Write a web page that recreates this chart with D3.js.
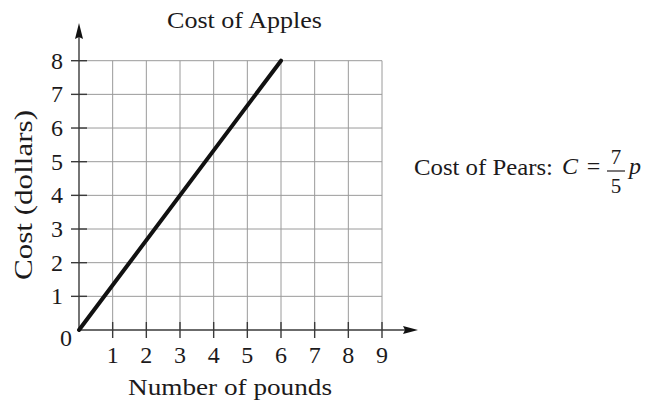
<!DOCTYPE html>
<html>
<head>
<meta charset="utf-8">
<script src="https://cdn.jsdelivr.net/npm/d3@7"></script>
<style>
  body { margin: 0; background: #fff; }
  text { font-family: "Liberation Serif", "Times New Roman", serif; fill: #1c1a1b; }
</style>
</head>
<body>
<svg id="chart" width="649" height="402"></svg>
<script>
  // data
  const xTicks = [1, 2, 3, 4, 5, 6, 7, 8, 9]
  const yTicks = [1, 2, 3, 4, 5, 6, 7, 8]
  const applePounds = [0, 6]
  const appleCost = [0, 8]

  const svg = d3.select("#chart")
  const fontSize = 24
  const tickFont = 24

  let xScale = d3.scaleLinear().domain([0, 9]).range([79, 382])
  let yScale = d3.scaleLinear().domain([0, 8]).range([330, 60.7])

  // grid
  let grid = svg.append("g").attr("stroke", "#9a9a9a").attr("stroke-width", 1)
  grid.selectAll("line.v").data(xTicks).join("line")
      .attr("x1", d => xScale(d)).attr("x2", d => xScale(d))
      .attr("y1", yScale(0)).attr("y2", yScale(8))
  grid.selectAll("line.h").data(yTicks).join("line")
      .attr("y1", d => yScale(d)).attr("y2", d => yScale(d))
      .attr("x1", xScale(0)).attr("x2", xScale(9))

  // axes with arrows
  let axis = svg.append("g").attr("stroke", "#3a3a3a").attr("stroke-width", 1.4)
  axis.append("line").attr("x1", xScale(0)).attr("x2", 405).attr("y1", yScale(0)).attr("y2", yScale(0))
  axis.append("line").attr("x1", xScale(0)).attr("x2", xScale(0)).attr("y1", yScale(0)).attr("y2", 36)
  svg.append("path").attr("fill", "#111")
     .attr("d", `M418,${yScale(0)} L403,${yScale(0) - 4} L405,${yScale(0)} L403,${yScale(0) + 4} Z`)
  svg.append("path").attr("fill", "#111")
     .attr("d", `M${xScale(0)},23 L${xScale(0) - 4},39 L${xScale(0)},37 L${xScale(0) + 4},39 Z`)

  // tick marks crossing the axes
  axis.selectAll("line.xt").data(xTicks).join("line")
      .attr("x1", d => xScale(d)).attr("x2", d => xScale(d))
      .attr("y1", yScale(0) - 8).attr("y2", yScale(0) + 8)
  axis.selectAll("line.yt").data(yTicks).join("line")
      .attr("y1", d => yScale(d)).attr("y2", d => yScale(d))
      .attr("x1", xScale(0) - 8).attr("x2", xScale(0) + 8)

  // tick labels
  svg.selectAll("text.xl").data(xTicks).join("text")
     .attr("x", d => xScale(d)).attr("y", yScale(0) + 33)
     .attr("text-anchor", "middle").attr("font-size", tickFont).text(d => d)
  svg.selectAll("text.yl").data(yTicks).join("text")
     .attr("x", xScale(0) - 22).attr("y", d => yScale(d) + 8)
     .attr("text-anchor", "middle").attr("font-size", tickFont).text(d => d)
  svg.append("text").attr("x", 66).attr("y", 346)
     .attr("text-anchor", "middle").attr("font-size", tickFont).text("0")

  // apples line
  let line = d3.line().x((d, i) => xScale(applePounds[i])).y(d => yScale(d))
  svg.append("path").datum(appleCost)
     .attr("d", line).attr("fill", "none")
     .attr("stroke", "#111").attr("stroke-width", 4).attr("stroke-linecap", "round")

  // titles
  svg.append("text").attr("x", 167).attr("y", 28).attr("font-size", fontSize)
     .attr("textLength", 155).attr("lengthAdjust", "spacingAndGlyphs").text("Cost of Apples")
  svg.append("text").attr("x", 128).attr("y", 395).attr("font-size", fontSize)
     .attr("textLength", 204).attr("lengthAdjust", "spacingAndGlyphs").text("Number of pounds")
  svg.append("text").attr("transform", "translate(32,280) rotate(-90)").attr("font-size", 25)
     .attr("textLength", 170).attr("lengthAdjust", "spacingAndGlyphs").text("Cost (dollars)")

  // pears formula
  let f = svg.append("g")
  f.append("text").attr("x", 414).attr("y", 175).attr("font-size", fontSize)
   .attr("textLength", 139).attr("lengthAdjust", "spacingAndGlyphs").text("Cost of Pears:")
  f.append("text").attr("x", 562).attr("y", 174).attr("font-size", fontSize)
   .attr("font-style", "italic").text("C")
  f.append("text").attr("x", 593.5).attr("y", 174).attr("font-size", fontSize)
   .attr("text-anchor", "middle").text("=")
  f.append("line").attr("x1", 607).attr("x2", 625).attr("y1", 171).attr("y2", 171)
   .attr("stroke", "#231f20").attr("stroke-width", 1.2)
  f.append("text").attr("x", 616).attr("y", 164).attr("font-size", 21)
   .attr("text-anchor", "middle").text("7")
  f.append("text").attr("x", 616).attr("y", 193).attr("font-size", 21)
   .attr("text-anchor", "middle").text("5")
  f.append("text").attr("x", 629).attr("y", 174).attr("font-size", fontSize)
   .attr("font-style", "italic").text("p")
</script>
</body>
</html>
